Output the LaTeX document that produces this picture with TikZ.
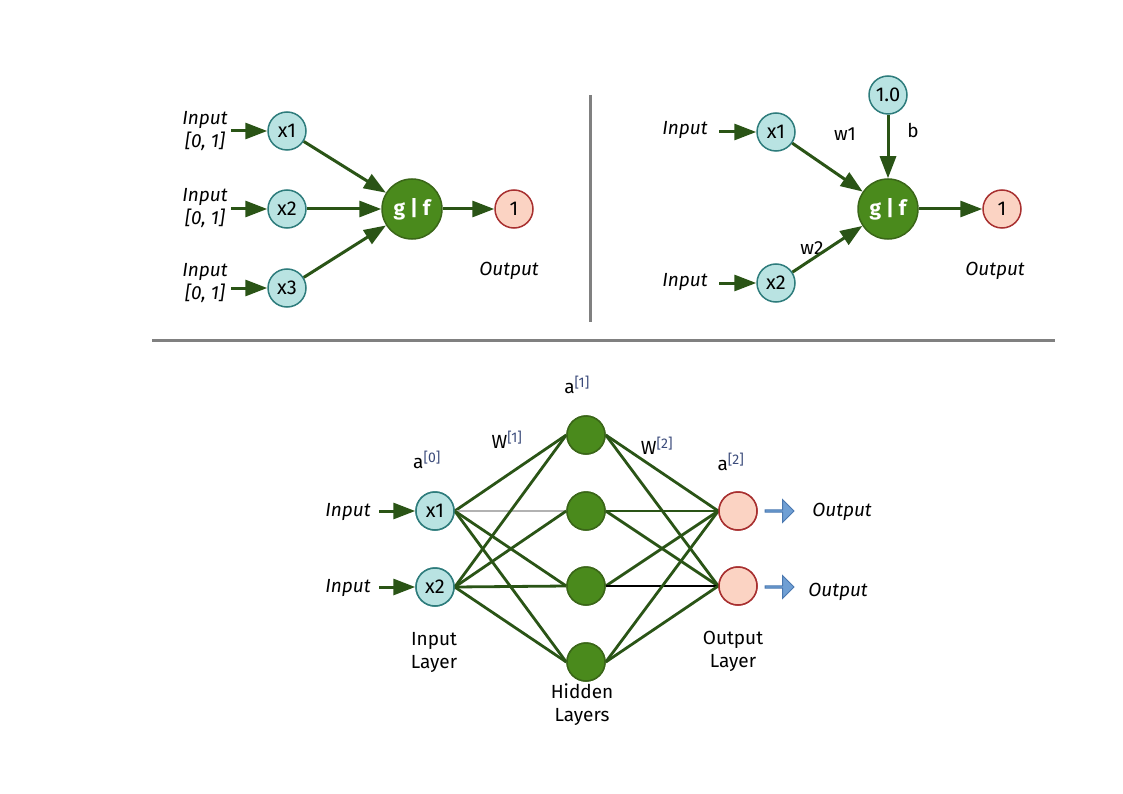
\documentclass[tikz,border=0pt]{standalone}
\usepackage{fontspec}
\setmainfont{Fira Sans}
\usetikzlibrary{arrows.meta,shapes.arrows}
\definecolor{infill}{HTML}{B9E3E2}
\definecolor{indraw}{HTML}{2E7C7C}
\definecolor{gfill}{HTML}{4A8A1C}
\definecolor{gdraw}{HTML}{3A6618}
\definecolor{edge}{HTML}{2A5416}
\definecolor{outfill}{HTML}{FBD3C3}
\definecolor{outdraw}{HTML}{A83030}
\definecolor{barr}{HTML}{6F9FD4}
\definecolor{barrd}{HTML}{4A78B0}
\definecolor{sepc}{HTML}{808080}
\definecolor{supc}{HTML}{3A4A7A}
\tikzset{
  inn/.style={circle,draw=indraw,fill=infill,line width=1.5pt,minimum size=38pt,inner sep=0pt,font=\fontsize{20}{20}\selectfont},
  gf/.style={circle,draw=gdraw,fill=gfill,line width=1.5pt,minimum size=60pt,inner sep=0pt,text=white,font=\fontsize{21}{21}\selectfont\bfseries},
  hid/.style={circle,draw=gdraw,fill=gfill,line width=1.5pt,minimum size=38pt,inner sep=0pt},
  outn/.style={circle,draw=outdraw,fill=outfill,line width=1.5pt,minimum size=38pt,inner sep=0pt,font=\fontsize{20}{20}\selectfont},
  arr/.style={draw=edge,line width=3pt,-{Triangle[length=22pt,width=16pt]}},
  conn/.style={draw=edge,line width=2.8pt},
  lbl/.style={font=\fontsize{19}{23}\selectfont\itshape,align=center,inner sep=0pt},
  txt/.style={font=\fontsize{19}{23}\selectfont,align=center,inner sep=0pt},
  sep/.style={draw=sepc,line width=3pt},
  barrow/.style={single arrow,draw=barrd,fill=barr,minimum height=29pt,minimum width=23pt,single arrow head extend=5pt,inner sep=0pt,line width=1pt}
}
\newcommand{\sps}[1]{\textsuperscript{\color{supc}\fontsize{14}{14}\selectfont[#1]}}
\begin{document}
\begin{tikzpicture}[x=1pt,y=-1pt]
\useasboundingbox (0,0) rectangle (1123,794);
% ---------- top left ----------
\node[lbl] (iA1) at (205,131) {Input\\{[0, 1]}};
\node[lbl] (iA2) at (205,208) {Input\\{[0, 1]}};
\node[lbl] (iA3) at (205,283) {Input\\{[0, 1]}};
\node[inn] (a1) at (287,131) {x1};
\node[inn] (a2) at (287,209) {x2};
\node[inn] (a3) at (287,288) {x3};
\node[gf] (ag) at (412,209) {g | f};
\node[outn] (ao) at (514,209) {1};
\node[lbl] (aot) at (509,271) {Output};
\coordinate (aS1) at (231,131);
\coordinate (aS2) at (231,209);
\coordinate (aS3) at (231,288);
\draw[arr] (aS1) -- (a1);
\draw[arr] (aS2) -- (a2);
\draw[arr] (aS3) -- (a3);
\draw[arr] (a1) -- (ag);
\draw[arr] (a2) -- (ag);
\draw[arr] (a3) -- (ag);
\draw[arr] (ag) -- (ao);
% separators
\coordinate (v1) at (590,95);
\coordinate (v2) at (590,322);
\draw[sep] (v1) -- (v2);
\coordinate (h1) at (152,340);
\coordinate (h2) at (1055,340);
\draw[sep] (h1) -- (h2);
% ---------- top right ----------
\node[lbl] (iB1) at (685,130) {Input};
\node[lbl] (iB2) at (685,282) {Input};
\node[inn] (b1) at (776,132) {x1};
\node[inn] (b2) at (776,283) {x2};
\node[inn] (bb) at (888,95) {1.0};
\node[gf] (bg) at (888,209) {g | f};
\node[outn] (bo) at (1002,209) {1};
\node[lbl] (bot) at (995,271) {Output};
\node[txt] (w1) at (845,134) {w1};
\node[txt] (w2) at (812,248) {w2};
\node[txt] (bl) at (913,130) {b};
\coordinate (bS1) at (719,132);
\coordinate (bS2) at (719,283);
\draw[arr] (bS1) -- (b1);
\draw[arr] (bS2) -- (b2);
\draw[arr] (b1) -- (bg);
\draw[arr] (b2) -- (bg);
\draw[arr] (bb) -- (bg);
\draw[arr] (bg) -- (bo);
% ---------- bottom ----------
\node[lbl] (iC1) at (348,512) {Input};
\node[lbl] (iC2) at (348,588) {Input};
\node[inn] (c1) at (435,511) {x1};
\node[inn] (c2) at (435,587) {x2};
\node[hid] (h1n) at (586,435) {};
\node[hid] (h2n) at (586,511) {};
\node[hid] (h3n) at (586,586) {};
\node[hid] (h4n) at (586,662) {};
\node[outn] (o1) at (738,511) {};
\node[outn] (o2) at (738,586) {};
\coordinate (cS1) at (379,511);
\coordinate (cS2) at (379,587);
\draw[arr] (cS1) -- (c1);
\draw[arr] (cS2) -- (c2);
% input to hidden
\draw[conn] (c1.east) -- (h1n.west);
\draw[draw=gray!60,line width=1.5pt] (c1.east) -- (h2n.west);
\draw[conn] (c1.east) -- (h3n.west);
\draw[conn] (c1.east) -- (h4n.west);
\draw[conn] (c2.east) -- (h1n.west);
\draw[conn] (c2.east) -- (h2n.west);
\draw[conn] (c2.east) -- (h3n.west);
\draw[conn] (c2.east) -- (h4n.west);
% hidden to output
\draw[conn] (h1n.east) -- (o1.west);
\draw[conn] (h1n.east) -- (o2.west);
\draw[conn] (h2n.east) -- (o1.west);
\draw[conn] (h2n.east) -- (o2.west);
\draw[conn] (h3n.east) -- (o1.west);
\draw[draw=black,line width=1.1pt] (h3n.east) -- (o2.west);
\draw[conn] (h4n.east) -- (o1.west);
\draw[conn] (h4n.east) -- (o2.west);
% redraw nodes on top
\foreach \n in {h1n,h2n,h3n,h4n} \node[hid] at (\n) {};
\node[outn] at (o1) {};
\node[outn] at (o2) {};
\node[inn] at (c1) {x1};
\node[inn] at (c2) {x2};
\node[barrow] (ba1) at (779,511) {};
\node[barrow] (ba2) at (779,587) {};
\node[lbl] (oc1) at (842,512) {Output};
\node[lbl] (oc2) at (838,592) {Output};
\node[txt] (a0) at (427,460) {a\sps{0}};
\node[txt] (W1) at (507,440) {W\sps{1}};
\node[txt] (a1l) at (577,385) {a\sps{1}};
\node[txt] (W2) at (657,446) {W\sps{2}};
\node[txt] (a2l) at (731,462) {a\sps{2}};
\node[txt] (il) at (434,652) {Input\\Layer};
\node[txt] (hl) at (582,705) {Hidden\\Layers};
\node[txt] (ol) at (733,651) {Output\\Layer};
\end{tikzpicture}
\end{document}
